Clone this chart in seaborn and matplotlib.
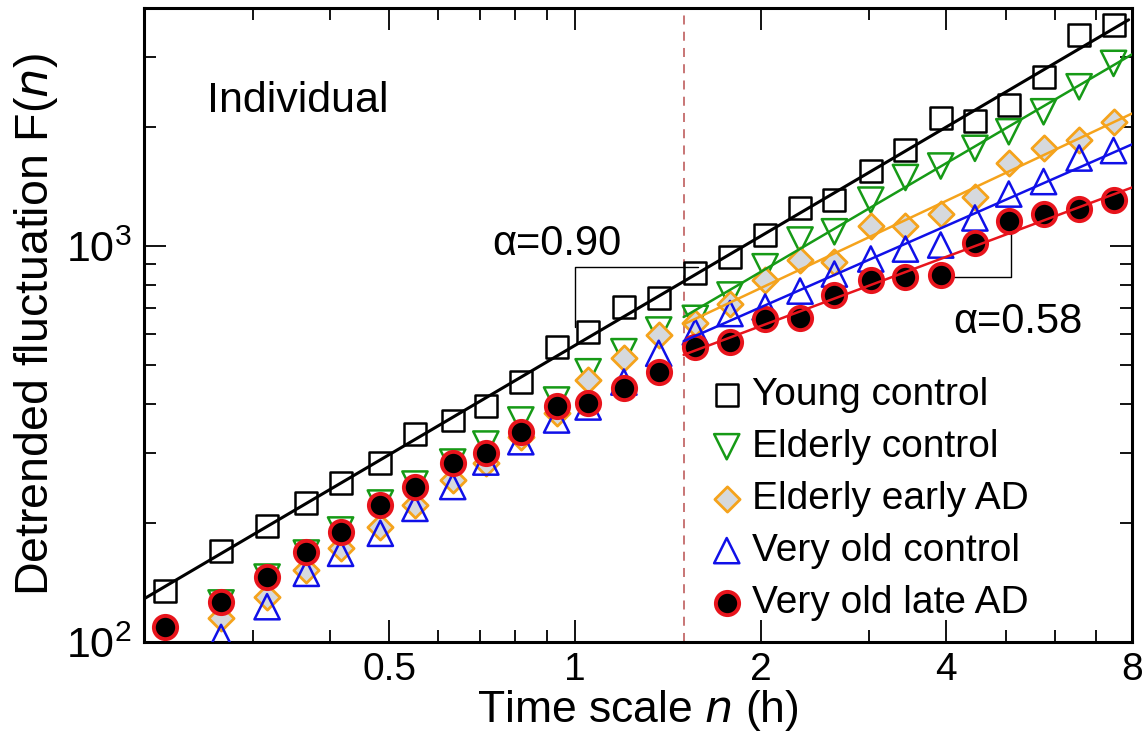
import numpy as np
import pandas as pd
import matplotlib
matplotlib.use("Agg")
import matplotlib.pyplot as plt
import seaborn as sns
from matplotlib.ticker import LogLocator, NullFormatter, FixedLocator, FixedFormatter

# ---------------- data ----------------
scale_min = [13, 16, 19, 22, 25, 29, 33, 38, 43, 49, 56, 63, 72, 82, 94,
             107, 122, 139, 158, 181, 206, 235, 267, 303, 345, 394, 448]
nan = np.nan
young_control = [134.8, 169.8, 196.7, 224.9, 251.8, 282.8, 335.5, 362.8, 394.8,
                 454.6, 555.3, 606.1, 703.4, 738.7, 855.5, 939.1, 1067, 1247,
                 1308, 1549, 1755, 2104, 2072, 2274, 2671, 3417, 3622]
elderly_control = [nan, 125.5, 145.9, 167.8, 191.9, 224.5, 250.7, 284.9, 316.4,
                   363.9, 408.8, 481.8, 541.5, 614.3, 657.4, 753.1, 887.6, 1037,
                   1088, 1308, 1492, 1595, 1768, 1947, 2187, 2529, 2898]
elderly_early_ad = [nan, 114.8, 130.1, 152.0, 172.5, 195.6, 221.9, 256.6, 282.8,
                    329.6, 378.3, 459.2, 521.1, 596.6, 641.5, 714.5, 821.7, 922.9,
                    913.9, 1125, 1123, 1206, 1334, 1620, 1768, 1855, 2064]
very_old_control = [nan, 102.7, 122.8, 149.1, 167.5, 188.2, 217.6, 247.1, 284.9,
                    320.7, 363.9, 392.5, 453.8, 536.4, 607.1, 676.1, 702.2, 770.5,
                    850.6, 928.5, 983.8, 1007, 1179, 1355, 1457, 1671, 1745]
very_old_late_ad = [109.3, 126.4, 146.2, 169.1, 189.3, 221.9, 245.9, 284.1, 300.8,
                    340.0, 395.5, 402.4, 437.5, 480.1, 557.3, 571.7, 655.9, 658.6,
                    750.9, 821.7, 836.2, 845.9, 1018.8, 1161, 1206, 1240, 1312]

labels = ["Young control", "Elderly control", "Elderly early AD",
          "Very old control", "Very old late AD"]
crossover_h = 1.5
x_ticks = [0.5, 1, 2, 4, 8]
x_tick_labels = ["0.5", "1", "2", "4", "8"]
y_ticks = [100, 1000]
y_tick_labels = [r"$\mathregular{10^2}$", r"$\mathregular{10^3}$"]

hours = np.array(scale_min) / 60.0
series = [young_control, elderly_control, elderly_early_ad,
          very_old_control, very_old_late_ad]

df = pd.concat([pd.DataFrame({"hours": hours, "F": vals, "group": lab})
                for lab, vals in zip(labels, series)], ignore_index=True)

# ---------------- styles ----------------
sns.set_style("ticks")
plt.rcParams["font.family"] = ["Liberation Sans", "DejaVu Sans"]
plt.rcParams["mathtext.default"] = "regular"
for key in ["text.color", "axes.labelcolor", "xtick.color", "ytick.color",
            "axes.edgecolor"]:
    plt.rcParams[key] = "black"

markers = ["s", "v", "D", "^", "o"]
edge_colors = ["black", "#169a16", "#f5a31c", "#1010e8", "#e8141c"]
face_colors = ["none", "none", "#d6d9dd", "none", "black"]
sizes = [250, 330, 165, 330, 280]
edge_widths = [1.8, 1.8, 2.0, 1.8, 2.8]
line_colors = ["black", "#169a16", "#f5a31c", "#1010e8", "#e8141c"]

fig = plt.figure(figsize=(11.45, 7.44), dpi=100)
ax = fig.add_axes([144 / 1145, 1 - 642 / 744, 988 / 1145, 634 / 744])
ax.set_xscale("log")
ax.set_yscale("log")
ax.set_xlim(0.2, 8)
ax.set_ylim(100, 4000)

ax.axvline(crossover_h, color="#c46a6a", lw=1.3, ls=(0, (5, 4)), zorder=1)

handles = []
for i, lab in enumerate(labels):
    sub = df[df["group"] == lab].dropna()
    sns.scatterplot(data=sub, x="hours", y="F", ax=ax, marker=markers[i],
                    s=sizes[i], facecolor=face_colors[i], edgecolor=edge_colors[i],
                    linewidth=edge_widths[i], zorder=3 + i, legend=False)
    handles.append(ax.collections[-1])

# power-law fits (straight lines in log-log)
for i, lab in enumerate(labels):
    sub = df[df["group"] == lab].dropna()
    if i == 0:
        fit_sub = sub
        xr = np.array([0.2, 7.9])
    else:
        fit_sub = sub[sub["hours"] >= crossover_h]
        xr = np.array([crossover_h, 8.0])
    a, b = np.polyfit(np.log10(fit_sub["hours"]), np.log10(fit_sub["F"]), 1)
    yr = 10 ** (a * np.log10(xr) + b)
    sns.lineplot(x=xr, y=yr, ax=ax, color=line_colors[i],
                 lw=2.2 if i == 0 else 1.8, zorder=10 + i)

# slope triangles
ax.plot([1.0, 1.0, 1.58], [625, 888, 888], color="black", lw=1.0, zorder=2)
ax.plot([3.9, 5.1, 5.1], [838, 838, 1080], color="black", lw=1.0, zorder=2)

ax.text(0.352, 0.610, "α=0.90", transform=ax.transAxes, fontsize=30, va="baseline")
ax.text(0.819, 0.487, "α=0.58", transform=ax.transAxes, fontsize=30, va="baseline")
ax.text(0.064, 0.836, "Individual", transform=ax.transAxes, fontsize=31, va="baseline")

# ticks
ax.xaxis.set_major_locator(FixedLocator(x_ticks))
ax.xaxis.set_major_formatter(FixedFormatter(x_tick_labels))
ax.xaxis.set_minor_locator(LogLocator(base=10, subs=np.arange(2, 10)))
ax.xaxis.set_minor_formatter(NullFormatter())
ax.yaxis.set_major_locator(FixedLocator(y_ticks))
ax.yaxis.set_major_formatter(FixedFormatter(y_tick_labels))
ax.yaxis.set_minor_locator(LogLocator(base=10, subs=np.arange(2, 10)))
ax.yaxis.set_minor_formatter(NullFormatter())
ax.tick_params(which="both", direction="in", top=True, right=True, width=1.3)
ax.tick_params(which="major", length=16)
ax.tick_params(which="minor", length=8.5)
ax.tick_params(axis="x", which="major", labelsize=28, pad=7)
ax.tick_params(axis="y", which="major", labelsize=31, pad=9)
for sp in ax.spines.values():
    sp.set_linewidth(2.2)
    sp.set_visible(True)

ax.set_xlabel("Time scale $\\it{n}$ (h)", fontsize=32, labelpad=0)
ax.set_ylabel("Detrended fluctuation F($\\it{n}$)", fontsize=33.5, labelpad=4)

ax.legend(handles, labels, loc="upper left", bbox_to_anchor=(0.578, 0.418),
          frameon=False, fontsize=28, borderpad=0, borderaxespad=0,
          handlelength=0.6, handletextpad=0.35, labelspacing=0.41,
          scatterpoints=1)

fig.savefig("out.png", dpi=100)
